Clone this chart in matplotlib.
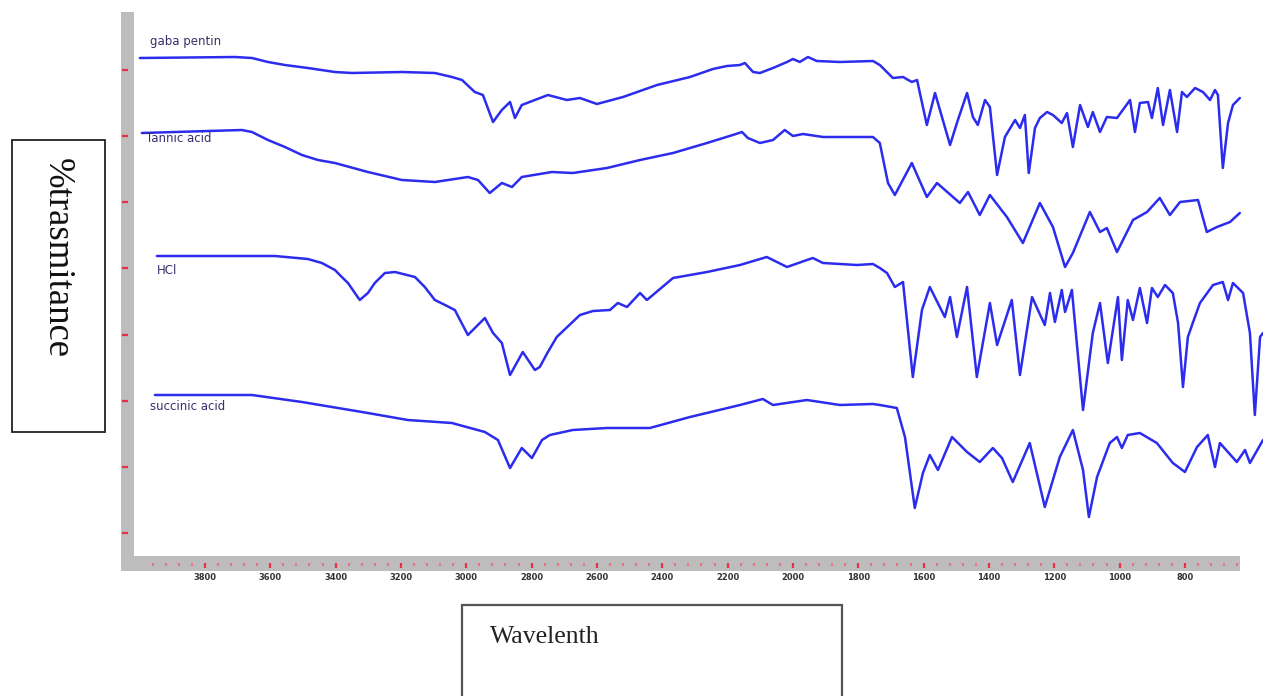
import matplotlib
matplotlib.use("Agg")
import matplotlib.pyplot as plt
from matplotlib.patches import Rectangle
from matplotlib.ticker import FixedLocator

W, H = 1263, 696

# ---------------- data (wavenumber cm-1, transmittance in arbitrary stacked units) -------------
gaba_wn = [3999, 3708, 3656, 3607, 3555, 3485, 3402, 3350, 3197, 3096, 3044, 3013, 2974, 2949, 2918,
           2891, 2866, 2851, 2830,
           2790, 2750, 2692, 2652, 2600, 2520, 2416, 2315, 2245, 2202, 2162, 2147, 2122, 2101, 2061,
           2018, 2000, 1979, 1954, 1927, 1856, 1755, 1734, 1694, 1663, 1636, 1620, 1590, 1565, 1519,
           1495, 1467, 1449, 1434, 1412, 1397, 1375, 1351, 1320, 1305, 1290, 1278, 1259, 1244, 1222,
           1204, 1177, 1161, 1143, 1121, 1097, 1082, 1060, 1039, 1008, 968, 953, 938, 913, 901, 883,
           867, 846, 824, 809, 794, 769, 745, 723, 708, 699, 684, 668, 653, 632]
gaba_t = [497, 498, 497, 493, 490, 487, 483, 482, 483, 482, 478, 475, 463, 460, 433,
          445, 453, 437, 450,
          455, 460, 455, 457, 451, 458, 470, 478, 486, 489, 490, 492, 483, 482, 487,
          493, 496, 493, 498, 494, 493, 494, 490, 477, 478, 473, 475, 430, 462, 410,
          435, 462, 438, 430, 455, 448, 380, 418, 435, 427, 440, 382, 427, 437, 443,
          440, 432, 442, 408, 450, 428, 443, 423, 438, 437, 455, 423, 452, 453, 437, 467,
          430, 465, 423, 463, 458, 467, 463, 455, 465, 460, 387, 432, 450, 457]

tannic_wn = [3993, 3687, 3656, 3607, 3555, 3503, 3454, 3402, 3301, 3197, 3096, 2995, 2964, 2928,
             2891, 2860, 2830,
             2738, 2674, 2569, 2468, 2367, 2263, 2184, 2156, 2138, 2101, 2061, 2025, 2000, 1969,
             1908, 1755, 1734, 1709, 1688, 1636, 1590, 1559, 1489, 1464, 1428, 1397, 1345, 1296,
             1244, 1204, 1167, 1143, 1091, 1060, 1039, 1008, 959, 916, 877, 846, 815, 760, 733,
             702, 662, 632]
tannic_t = [422, 425, 423, 415, 408, 400, 395, 392, 383, 375, 373, 378, 375, 362,
            372, 368, 378,
            383, 382, 387, 395, 402, 412, 420, 423, 417, 412, 415, 425, 419, 421,
            418, 418, 412, 372, 360, 392, 358, 372, 352, 363, 340, 360, 338, 312,
            352, 328, 288, 302, 343, 323, 327, 303, 335, 343, 357, 340, 353, 355, 323,
            328, 333, 342]

hcl_wn = [3947, 3586, 3485, 3442, 3402, 3381, 3362, 3326, 3301, 3280, 3249, 3218, 3157, 3127,
          3096, 3065, 3035, 2995, 2943, 2918,
          2891, 2866, 2827, 2790, 2775, 2750, 2723, 2652, 2612, 2560, 2536, 2508, 2468, 2447, 2367,
          2263, 2162, 2080, 2018, 1957, 1939, 1908, 1804, 1755, 1734, 1712, 1688, 1663, 1633,
          1605, 1581, 1535, 1519, 1498, 1467, 1437, 1397, 1375, 1345, 1330, 1305, 1268, 1229,
          1213, 1198, 1177, 1167, 1146, 1112, 1082, 1060, 1036, 1005, 993, 975, 959, 938, 916,
          901, 883, 861, 837, 821, 806, 791, 776, 754, 714, 684, 668, 653, 622, 601, 586, 570, 561]
hcl_t = [299, 299, 296, 292, 285, 278, 272, 255, 262, 272, 282, 283, 278, 268,
         255, 250, 245, 220, 237, 222,
         212, 180, 203, 185, 188, 203, 218, 240, 244, 245, 252, 248, 262, 255, 277,
         283, 290, 298, 288, 295, 297, 292, 290, 291, 287, 282, 268, 273, 178,
         245, 268, 238, 258, 218, 268, 178, 252, 210, 240, 255, 180, 258, 230,
         262, 233, 265, 243, 265, 145, 222, 252, 192, 258, 195, 255, 235, 267, 232,
         267, 258, 270, 262, 232, 168, 218, 232, 252, 270, 273, 255, 272, 262, 222, 140, 218, 222]

succ_wn = [3953, 3656, 3503, 3319, 3179, 3044, 2943, 2903, 2866, 2830, 2799, 2768, 2744, 2674,
           2569, 2438, 2315, 2162, 2092, 2061, 1957, 1856, 1755, 1734, 1682, 1657, 1627, 1602,
           1581, 1556, 1513, 1467, 1428, 1388, 1360, 1327, 1275, 1229, 1183, 1143, 1112, 1094,
           1069, 1030, 1008, 993, 975, 938, 886, 837, 800, 763, 730, 708, 693, 641, 616, 601, 561]
succ_t = [160, 160, 153, 143, 135, 132, 123, 115, 87, 107, 97, 115, 120, 125,
          127, 127, 138, 150, 156, 150, 155, 150, 151, 150, 147, 118, 47, 82,
          100, 85, 118, 103, 93, 107, 97, 73, 112, 48, 98, 125, 85, 38,
          78, 112, 118, 107, 120, 122, 112, 92, 83, 108, 120, 88, 112, 93, 105, 92, 115]

series_names = ["gaba pentin", "Tannic acid", "HCl", "succinic acid"]
x_major = list(range(3800, 799, -200))
x_minor = list(range(3960, 639, -40))
x_tick_labels = [str(v) for v in x_major]
y_ticks = [22, 88, 154, 220, 287, 353, 419, 485]

# ---------------- figure -------------
fig = plt.figure(figsize=(W / 100, H / 100), dpi=100)
fig.patch.set_facecolor("white")


def fx(x):
    return x / W


def fy(y):
    return 1 - y / H


ax = fig.add_axes([fx(135), fy(555), fx(1263) - fx(135), fy(15) - fy(555)])
ax.set_xlim(4014, 561)
ax.set_ylim(0, 540)

line_color = "#2c2cee"
for wn, t in [(gaba_wn, gaba_t), (tannic_wn, tannic_t), (hcl_wn, hcl_t), (succ_wn, succ_t)]:
    ax.plot(wn, t, color=line_color, lw=1.8, solid_joinstyle="round",
            solid_capstyle="round")

for s in ["top", "right", "bottom", "left"]:
    ax.spines[s].set_visible(False)
ax.spines["bottom"].set_position(("outward", 5.5))
ax.spines["left"].set_position(("outward", 5))

ax.set_xticks(x_major)
ax.set_xticklabels(x_tick_labels)
ax.xaxis.set_minor_locator(FixedLocator([v for v in x_minor if v not in x_major]))
ax.tick_params(axis="x", which="major", direction="out", length=3.5, width=1.6,
               color="#e8304a", labelsize=6, labelcolor="#333333", pad=4)
ax.tick_params(axis="x", which="minor", direction="out", length=2.2, width=1.3,
               color="#ef6a80")
for lab in ax.get_xticklabels():
    lab.set_fontweight("bold")

ax.set_yticks(y_ticks)
ax.set_yticklabels([])
ax.tick_params(axis="y", which="major", direction="out", length=4, width=1.6,
               color="#e8304a")

# gray axis bars
fig.add_artist(Rectangle((fx(121), fy(571)), fx(134) - fx(121), fy(12) - fy(571),
                         transform=fig.transFigure, facecolor="#bdbdbd",
                         edgecolor="none", zorder=-1))
fig.add_artist(Rectangle((fx(121), fy(571)), fx(1240) - fx(121), fy(556) - fy(571),
                         transform=fig.transFigure, facecolor="#bdbdbd",
                         edgecolor="none", zorder=-1))

# series labels
label_px = [(150, 42), (146, 138), (157, 270), (150, 407)]
for name, (px, py) in zip(series_names, label_px):
    fig.text(fx(px), fy(py), name, fontsize=8.5, color="#3a2d6b",
             ha="left", va="center")

# y label box
fig.add_artist(Rectangle((fx(12), fy(432)), fx(105) - fx(12), fy(140) - fy(432),
                         transform=fig.transFigure, facecolor="white",
                         edgecolor="#222222", lw=1.3))
fig.text(fx(57), fy(258), "%trasmitance", rotation=270, fontsize=26.5,
         family="Liberation Serif", ha="center", va="center", color="#111111")

# x label box
fig.add_artist(Rectangle((fx(462), fy(710)), fx(842) - fx(462), fy(605) - fy(710),
                         transform=fig.transFigure, facecolor="white",
                         edgecolor="#555555", lw=1.6, clip_on=False))
fig.text(fx(490), fy(637), "Wavelenth", fontsize=18.5, family="Liberation Serif",
         ha="left", va="center", color="#222222")

fig.savefig("out.png", dpi=100)
